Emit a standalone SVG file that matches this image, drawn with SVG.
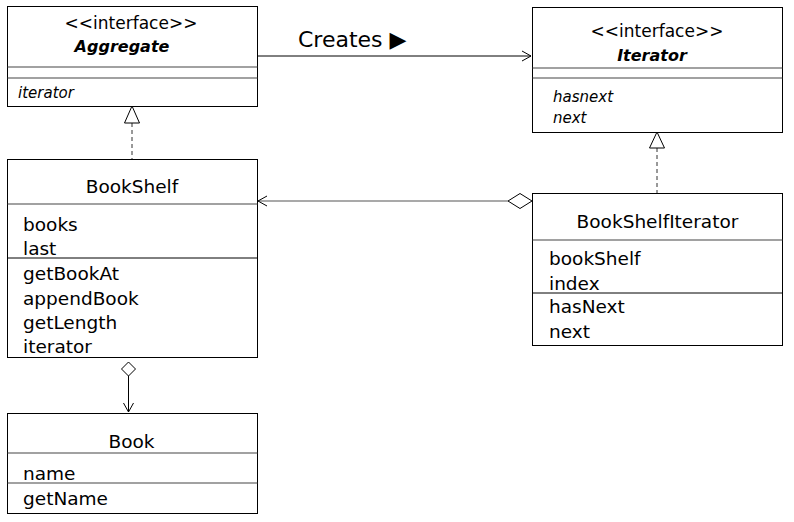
<svg xmlns="http://www.w3.org/2000/svg" width="794" height="522" viewBox="0 0 794 522">
<style>
.box{fill:#fff;stroke:#000;stroke-width:1}
.div{stroke:#444;stroke-width:1.2}
text{font-family:"DejaVu Sans",sans-serif;fill:#000}
.t{font-size:18.5px;text-anchor:middle}
.b{font-size:18.5px}
.st{font-size:17px;text-anchor:middle}
.an{font-size:16px;font-weight:bold;font-style:italic;text-anchor:middle}
.it{font-size:15px;font-style:italic}
.ln{fill:none;stroke:#000;stroke-width:1}
.lg{fill:none;stroke:#555;stroke-width:1.2}
.dash{fill:none;stroke:#333;stroke-width:1;stroke-dasharray:4,3}
.tri{fill:#fff;stroke:#000;stroke-width:1}
</style>
<rect width="794" height="522" fill="#fff"/>
<g id="connectors">
  <line class="ln" x1="257" y1="56" x2="531" y2="56"/>
  <polyline class="ln" points="522,51 531,56 522,61"/>
  <text x="298" y="47" style="font-size:22px">Creates ▶</text>
  <line class="dash" x1="132" y1="123" x2="132" y2="159"/>
  <polygon class="tri" points="132,106 124.5,123 139.5,123"/>
  <line class="dash" x1="657" y1="148" x2="657" y2="193"/>
  <polygon class="tri" points="657,132 649.5,148 664.5,148"/>
  <line class="lg" x1="258" y1="201" x2="508" y2="201"/>
  <polyline class="ln" points="267,196 258,201 267,206"/>
  <polygon class="tri" points="508,201 520,193.5 532,201 520,208.5"/>
  <polygon class="tri" points="128.5,362 135.5,369 128.5,376 121.5,369"/>
  <line class="ln" x1="128.5" y1="376" x2="128.5" y2="412"/>
  <polyline class="ln" points="123.5,403 128.5,412 133.5,403"/>
</g>
<g id="Aggregate">
  <rect class="box" x="7.5" y="6.5" width="250" height="100"/>
  <line class="div" x1="7.5" y1="67" x2="257.5" y2="67"/>
  <line class="div" x1="7.5" y1="78" x2="257.5" y2="78"/>
  <text class="st" x="131" y="29">&lt;&lt;interface&gt;&gt;</text>
  <text class="an" x="122" y="52">Aggregate</text>
  <text class="it" x="18" y="98">iterator</text>
</g>
<g id="Iterator">
  <rect class="box" x="532.5" y="7.5" width="250" height="125"/>
  <line class="div" x1="532.5" y1="68" x2="782.5" y2="68"/>
  <line class="div" x1="532.5" y1="78" x2="782.5" y2="78"/>
  <text class="st" x="657" y="37">&lt;&lt;interface&gt;&gt;</text>
  <text class="an" x="652" y="61">Iterator</text>
  <text class="it" x="553" y="102">hasnext</text>
  <text class="it" x="553" y="123">next</text>
</g>
<g id="BookShelf">
  <rect class="box" x="7.5" y="159.5" width="250" height="198"/>
  <line class="div" x1="7.5" y1="204" x2="257.5" y2="204"/>
  <line class="ln" x1="7.5" y1="258" x2="257.5" y2="258"/>
  <text class="t" x="132" y="193">BookShelf</text>
  <text class="b" x="23" y="231">books</text>
  <text class="b" x="23" y="255">last</text>
  <text class="b" x="23" y="280">getBookAt</text>
  <text class="b" x="23" y="305">appendBook</text>
  <text class="b" x="23" y="329">getLength</text>
  <text class="b" x="23" y="353">iterator</text>
</g>
<g id="BookShelfIterator">
  <rect class="box" x="532.5" y="193.5" width="250" height="152"/>
  <line class="div" x1="532.5" y1="240" x2="782.5" y2="240"/>
  <line class="ln" x1="532.5" y1="293" x2="782.5" y2="293"/>
  <text class="t" x="657.5" y="228">BookShelfIterator</text>
  <text class="b" x="549" y="265">bookShelf</text>
  <text class="b" x="549" y="290">index</text>
  <text class="b" x="549" y="313">hasNext</text>
  <text class="b" x="549" y="338">next</text>
</g>
<g id="Book">
  <rect class="box" x="7.5" y="413.5" width="250" height="100"/>
  <line class="div" x1="7.5" y1="453" x2="257.5" y2="453"/>
  <line class="div" x1="7.5" y1="483" x2="257.5" y2="483"/>
  <text class="t" x="131.5" y="448">Book</text>
  <text class="b" x="23" y="480">name</text>
  <text class="b" x="23" y="505">getName</text>
</g>
</svg>
